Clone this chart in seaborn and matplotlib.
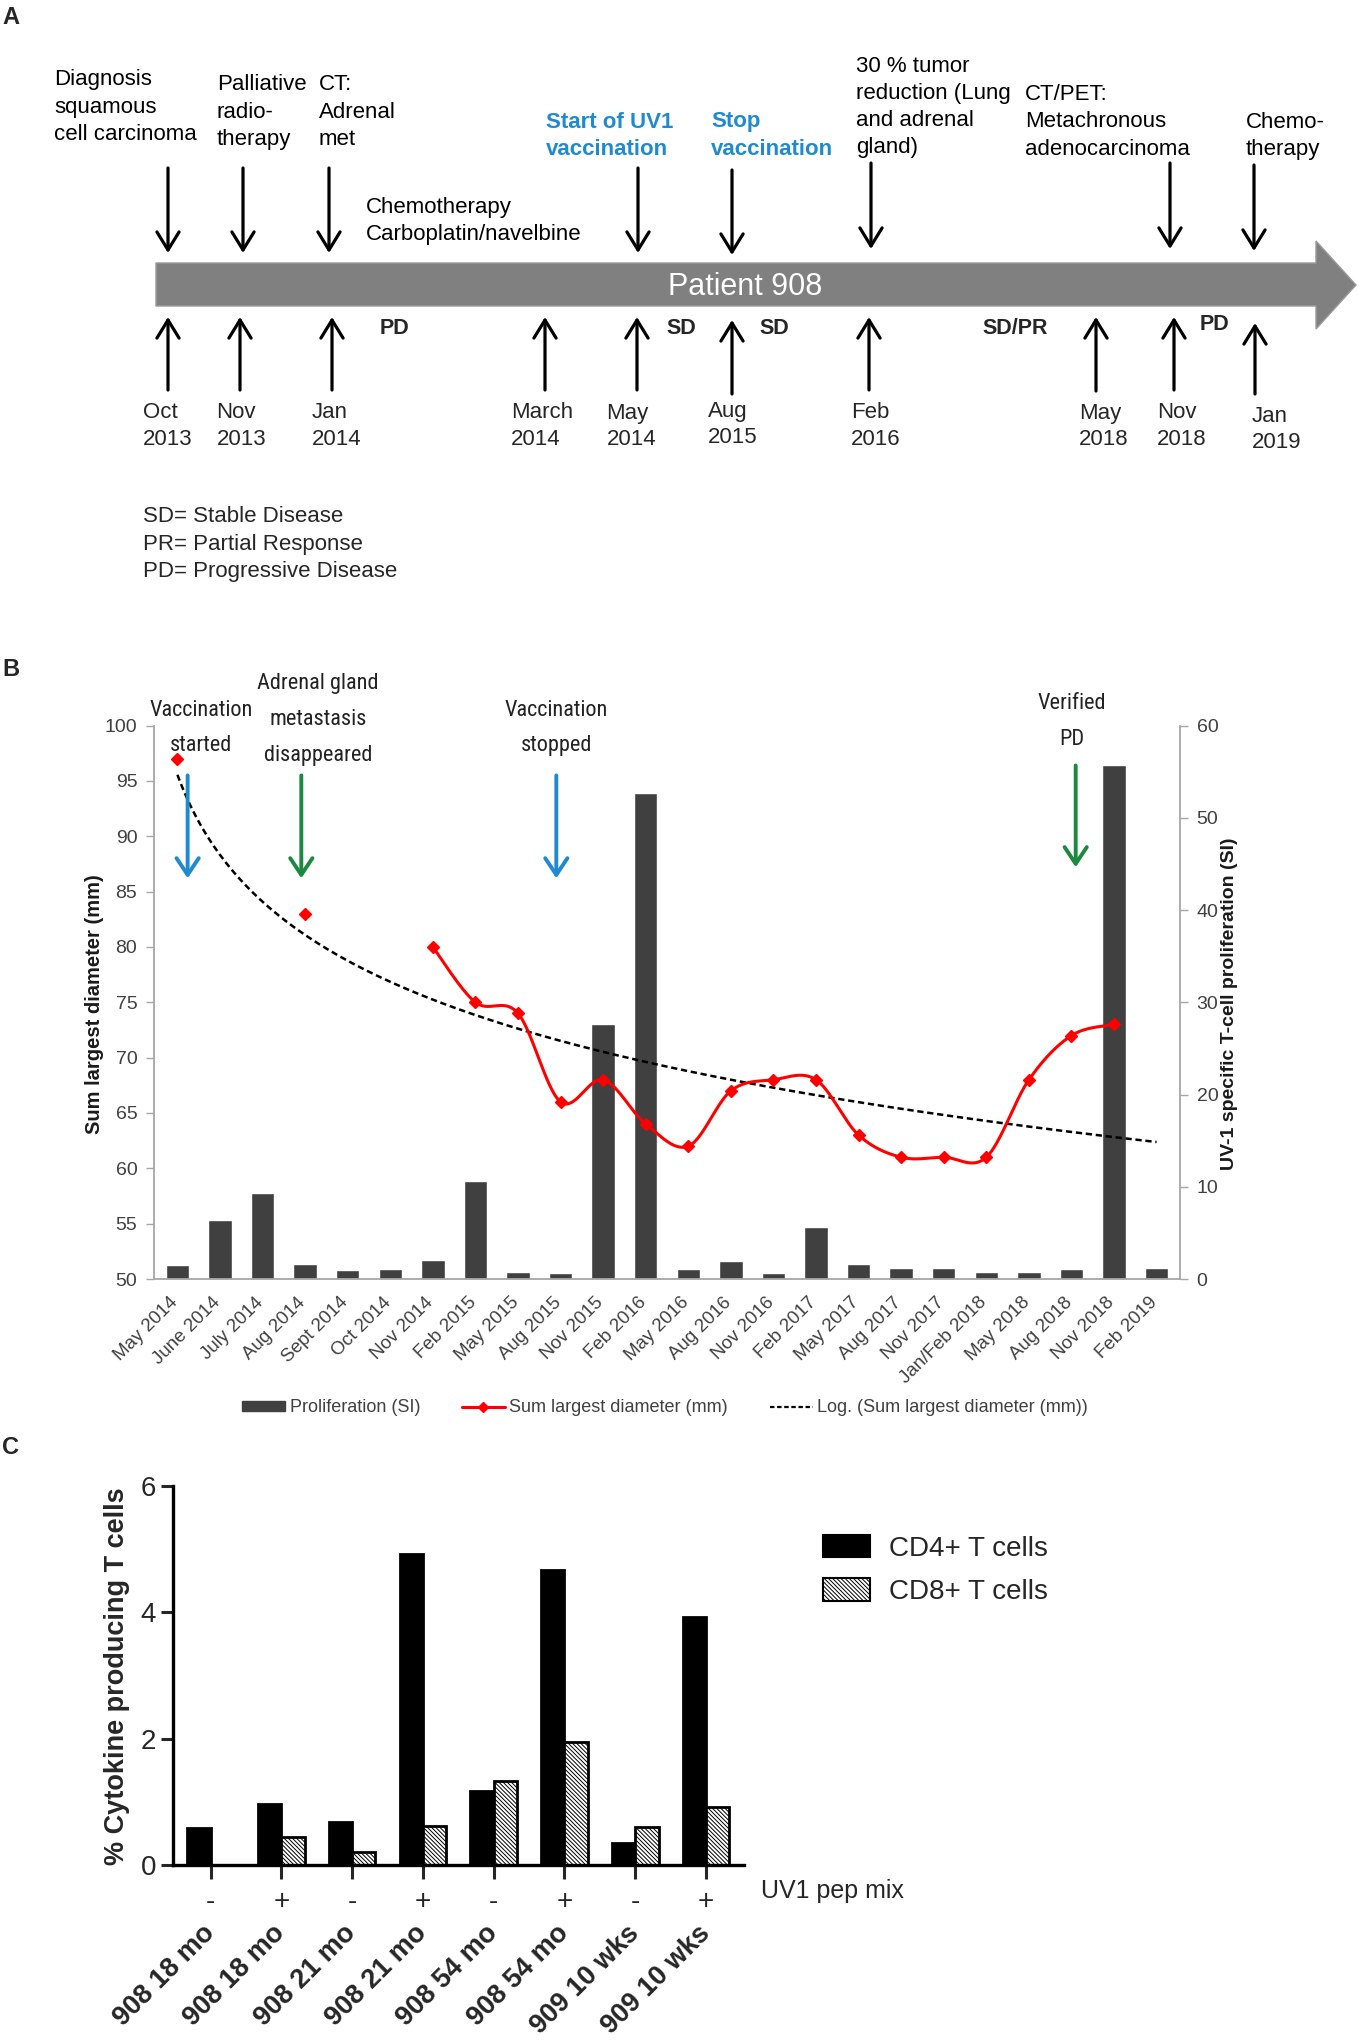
import numpy as np
import pandas as pd
import matplotlib
matplotlib.use("Agg")
import matplotlib.pyplot as plt
import seaborn as sns
from matplotlib.patches import Polygon, Patch
from matplotlib.lines import Line2D
from matplotlib import transforms

# ---------------------------------------------------------------- data
# Panel A: timeline of patient 908
a_title = "Patient 908"
a_events = ["Diagnosis\nsquamous\ncell carcinoma", "Palliative\nradio-\ntherapy", "CT:\nAdrenal\nmet",
            "Chemotherapy\nCarboplatin/navelbine", "Start of UV1\nvaccination", "Stop\nvaccination",
            "30 % tumor\nreduction (Lung\nand adrenal\ngland)", "CT/PET:\nMetachronous\nadenocarcinoma",
            "Chemo-\ntherapy"]
a_event_highlight = [False, False, False, False, True, True, False, False, False]
a_dates = ["Oct\n2013", "Nov\n2013", "Jan\n2014", "March\n2014", "May\n2014", "Aug\n2015",
           "Feb\n2016", "May\n2018", "Nov\n2018", "Jan\n2019"]
a_status = ["PD", "SD", "SD", "SD/PR", "PD"]
a_abbrev = ["SD= Stable Disease", "PR= Partial Response", "PD= Progressive Disease"]

# Panel B: proliferation (SI) and sum of largest diameters (mm)
b_months = ["May 2014", "June 2014", "July 2014", "Aug 2014", "Sept 2014", "Oct 2014", "Nov 2014",
            "Feb 2015", "May 2015", "Aug 2015", "Nov 2015", "Feb 2016", "May 2016", "Aug 2016",
            "Nov 2016", "Feb 2017", "May 2017", "Aug 2017", "Nov 2017", "Jan/Feb 2018", "May 2018",
            "Aug 2018", "Nov 2018", "Feb 2019"]
b_prolif = [1.5, 6.4, 9.3, 1.6, 1.0, 1.1, 2.1, 10.6, 0.8, 0.7, 27.7, 52.7, 1.1, 1.9, 0.7, 5.6,
            1.6, 1.2, 1.2, 0.8, 0.8, 1.1, 55.7, 1.2]
b_diam = [97, np.nan, np.nan, 83, np.nan, np.nan, 80, 75, 74, 66, 68, 64, 62, 67, 68, 68, 63, 61,
          61, 61, 68, 72, 73, np.nan]
b_series = ["Proliferation (SI)", "Sum largest diameter (mm)", "Log. (Sum largest diameter (mm))"]
b_notes = ["Vaccination\nstarted", "Adrenal gland\nmetastasis\ndisappeared", "Vaccination\nstopped",
           "Verified\nPD"]

# Panel C: cytokine producing T cells
c_samples = ["908 18 mo", "908 18 mo", "908 21 mo", "908 21 mo", "908 54 mo", "908 54 mo",
             "909 10 wks", "909 10 wks"]
c_pep = ["-", "+", "-", "+", "-", "+", "-", "+"]
c_cd4 = [0.58, 0.96, 0.68, 4.93, 1.17, 4.67, 0.35, 3.93]
c_cd8 = [np.nan, 0.44, 0.20, 0.61, 1.33, 1.95, 0.60, 0.92]
c_series = ["CD4+ T cells", "CD8+ T cells"]

# ---------------------------------------------------------------- style
sns.set_style("white")
plt.rcParams["font.family"] = ["Liberation Sans", "DejaVu Sans"]
NARROW = ["Roboto Condensed", "DejaVu Sans Condensed", "Liberation Sans Narrow", "Liberation Sans"]
BLUE = "#1f8ad2"
GREEN = "#1b8a3e"
DARK = "#404040"
AXGRAY = "#a6a6a6"
HATCH = "\\\\\\\\\\\\\\\\"

W, H = 1359, 2041
fig = plt.figure(figsize=(W / 100, H / 100), dpi=100)

# pixel-space overlay for the schematic panel A and the panel letters
ax_px = fig.add_axes([0, 0, 1, 1])
ax_px.set_xlim(0, W)
ax_px.set_ylim(H, 0)
ax_px.axis("off")


def lines_text(ax, x, y0, text, dy, **kw):
    for i, ln in enumerate(text.split("\n")):
        ax.text(x, y0 + i * dy, ln, ha="left", va="center", **kw)


# ---- panel letters
for letter, yy in zip("ABC", [17, 669, 1448]):
    ax_px.text(2, yy, letter, fontsize=17, fontweight="bold", ha="left", va="center")

# ---- panel A layout (schematic positions, px)
event_pos = [(54, 80), (217, 85), (319, 85), (366, 207), (546, 122), (711, 122), (856, 66),
             (1025, 94.5), (1246, 122)]
down_arrows = [(168, 168, 253), (243, 168, 253), (329, 168, 253), (638, 168, 253), (732, 170, 255),
               (871, 163, 249), (1170, 163, 249), (1254, 165, 251)]
date_pos = [(143, 413), (216.6, 413), (312, 413), (511, 413), (606.6, 413), (708, 411), (851, 413),
            (1079, 413), (1157, 413), (1252, 416)]
up_arrows = [(168, 317, 390), (240, 317, 390), (332, 317, 390), (545, 317, 390), (637, 317, 390),
             (732, 320, 394), (869, 317, 390), (1096, 317, 391), (1174, 317, 390), (1255, 323, 394)]
status_pos = [(380, 329), (666, 328), (759, 328), (982, 329), (1200, 324)]

ax_px.add_patch(Polygon([(156, 263), (1316, 263), (1316, 241), (1356, 285), (1316, 329),
                         (1316, 306), (156, 306)], closed=True, facecolor="#808080",
                        edgecolor="#9a9a9a", lw=1))
ax_px.text(745, 287, a_title, color="white", fontsize=22, ha="center", va="center")

for txt, hl, (x, y) in zip(a_events, a_event_highlight, event_pos):
    if hl:
        lines_text(ax_px, x, y, txt, 27.3, fontsize=16, color=BLUE, fontweight="bold")
    else:
        lines_text(ax_px, x, y, txt, 27.3, fontsize=16, color="black")

arrow_kw = dict(arrowstyle="->,head_length=0.65,head_width=0.4", color="black", lw=2.3,
                mutation_scale=20, shrinkA=0, shrinkB=0)
for x, top, tip in down_arrows:
    ax_px.annotate("", xy=(x, tip), xytext=(x, top), arrowprops=arrow_kw)
for x, tip, base in up_arrows:
    ax_px.annotate("", xy=(x, tip), xytext=(x, base), arrowprops=arrow_kw)
for txt, (x, y) in zip(a_dates, date_pos):
    lines_text(ax_px, x, y, txt, 26.5, fontsize=16)
for txt, (x, y) in zip(a_status, status_pos):
    ax_px.text(x, y, txt, fontsize=15.5, fontweight="bold", ha="left", va="center")
for i, txt in enumerate(a_abbrev):
    ax_px.text(143, 517 + i * 27.5, txt, fontsize=16, ha="left", va="center")

# ---------------------------------------------------------------- panel B
axl = fig.add_axes([154 / W, 1 - 1279 / H, (1180 - 154) / W, (1279 - 725.6) / H])
axb = axl.twinx()

sns.barplot(x=b_months, y=b_prolif, order=b_months, color=DARK, saturation=1, width=0.55,
            errorbar=None, ax=axb)
axb.set_ylim(0, 60)
axb.set_yticks(range(0, 61, 10))
axb.set_ylabel("")
axb.set_xlabel("")

axl.set_zorder(axb.get_zorder() + 1)
axl.patch.set_visible(False)

xs = np.arange(len(b_months))
yd = np.array(b_diam, dtype=float)


def smooth_segment(px, py, n=40):
    pts = np.column_stack([px, py]).astype(float)
    out = [pts[0]]
    for i in range(len(pts) - 1):
        p0 = pts[i - 1] if i > 0 else pts[i]
        p1, p2 = pts[i], pts[i + 1]
        p3 = pts[i + 2] if i + 2 < len(pts) else pts[i + 1]
        c1 = p1 + (p2 - p0) / 6.0
        c2 = p2 - (p3 - p1) / 6.0
        t = np.linspace(0, 1, n)[1:, None]
        out.extend((1 - t) ** 3 * p1 + 3 * (1 - t) ** 2 * t * c1 + 3 * (1 - t) * t ** 2 * c2 + t ** 3 * p2)
    return np.array(out)


valid = ~np.isnan(yd)
run = []
for i in range(len(xs) + 1):
    if i < len(xs) and valid[i]:
        run.append(i)
    else:
        if len(run) >= 2:
            seg = smooth_segment(xs[run], yd[run])
            axl.plot(seg[:, 0], seg[:, 1], color="red", lw=2.2, zorder=3)
        run = []
axl.plot(xs[valid], yd[valid], linestyle="none", marker="D", markersize=6.5, color="red", zorder=4)

# logarithmic trend line fitted on category positions 1..n
lx = np.log(xs[valid] + 1.0)
slope, intercept = np.polyfit(lx, yd[valid], 1)
xt = np.linspace(1, len(b_months), 300)
axl.plot(xt - 1, intercept + slope * np.log(xt), color="black", lw=1.8,
         linestyle=(0, (2.5, 1.5)), zorder=2)

axl.set_ylim(50, 100)
axl.set_yticks(range(50, 101, 5))
axl.set_xlim(-0.55, len(b_months) - 0.45)
axl.set_xticks(xs)
axl.set_xticklabels(b_months, rotation=45, ha="right", va="center", rotation_mode="anchor")
axl.tick_params(axis="x", length=0, pad=15, labelsize=13.5, labelcolor=DARK)
axl.tick_params(axis="y", length=6, width=1, color=AXGRAY, labelsize=14, labelcolor=DARK, pad=6)
axb.tick_params(axis="y", length=6, width=1, color=AXGRAY, labelsize=14, labelcolor=DARK, pad=6)
for lab in axl.get_xticklabels():
    lab.set_transform(lab.get_transform() + transforms.ScaledTranslation(-0.02, 0, fig.dpi_scale_trans))

for a in (axl, axb):
    for s in a.spines.values():
        s.set_visible(False)
axl.spines["left"].set_visible(True)
axl.spines["bottom"].set_visible(True)
axb.spines["right"].set_visible(True)
for s in (axl.spines["left"], axl.spines["bottom"], axb.spines["right"]):
    s.set_color(AXGRAY)
    s.set_linewidth(1.3)

# event arrows and notes
note_x = [0.55, 3.3, 8.9, 21.0]
note_y = [101.4, 103.8, 101.4, 102.0]
arrow_x = [0.24, 2.91, 8.9, 21.1]
arrow_top = [95.5, 95.5, 95.5, 96.4]
arrow_tip = [86.2, 86.2, 86.2, 87.2]
arrow_col = [BLUE, GREEN, BLUE, GREEN]
for txt, nx, ny in zip(b_notes, note_x, note_y):
    for i, ln in enumerate(txt.split("\n")):
        axl.annotate(ln, xy=(nx, ny), xytext=(0, -i * 25.8), textcoords="offset points",
                     ha="center", va="center", fontsize=16, family=NARROW, fontstretch="condensed",
                     color="#222222", annotation_clip=False)
for ax_, t0, t1, c in zip(arrow_x, arrow_top, arrow_tip, arrow_col):
    axl.annotate("", xy=(ax_, t1), xytext=(ax_, t0),
                 arrowprops=dict(arrowstyle="->,head_length=0.6,head_width=0.4", color=c, lw=2.8,
                                 mutation_scale=20, shrinkA=0, shrinkB=0), annotation_clip=False)

ax_px.text(95, 1004, "Sum largest diameter (mm)", rotation=90, fontsize=14.5, fontweight="bold",
           ha="center", va="center", color="#1a1a1a")
ax_px.text(1229, 1004, "UV-1 specific T-cell proliferation (SI)", rotation=90, fontsize=14,
           fontweight="bold", ha="center", va="center", color="#1a1a1a")

b_handles = [Patch(facecolor=DARK, edgecolor=DARK),
             Line2D([0], [0], color="red", lw=2.2, marker="D", markersize=5),
             Line2D([0], [0], color="black", lw=1.6, linestyle=(0, (2, 1.2)))]
legb = fig.legend(b_handles, b_series, loc="center", bbox_to_anchor=(665 / W, 1 - 1408 / H), ncol=3,
                  frameon=False, fontsize=13, handlelength=2.4, handleheight=0.45,
                  handletextpad=0.25, columnspacing=2.3)
for t in legb.get_texts():
    t.set_color(DARK)

# ---------------------------------------------------------------- panel C
axc = fig.add_axes([173 / W, 1 - 1865 / H, (743.6 - 173) / W, (1865 - 1486) / H])
slots = [f"s{i}" for i in range(len(c_samples))]
df_c = pd.DataFrame({"slot": slots * 2,
                     "cells": [c_series[0]] * len(slots) + [c_series[1]] * len(slots),
                     "pct": c_cd4 + c_cd8})
plt.rcParams["hatch.linewidth"] = 0.7
sns.barplot(data=df_c, x="slot", y="pct", hue="cells", order=slots, hue_order=c_series,
            palette=["black", "white"], saturation=1, width=0.66, errorbar=None,
            edgecolor="black", linewidth=2.0, legend=False, ax=axc)
for bar in axc.containers[1]:
    bar.set_hatch(HATCH)
    bar.set_facecolor("white")
    bar.set_edgecolor("black")

axc.set_ylim(0, 6)
axc.set_yticks([0, 2, 4, 6])
axc.set_xlim(-0.53, len(slots) - 0.47)
axc.set_xticks(range(len(slots)))
axc.set_xticklabels(c_pep)
axc.set_xlabel("")
axc.set_ylabel("")
axc.tick_params(axis="y", length=9, width=2.2, labelsize=20, pad=3, left=True, direction="out")
axc.tick_params(axis="x", length=10, width=2.2, labelsize=20, pad=7, bottom=True, direction="out")
for s in ("top", "right"):
    axc.spines[s].set_visible(False)
for s in ("left", "bottom"):
    axc.spines[s].set_linewidth(2.4)
    axc.spines[s].set_color("black")

trans_c = transforms.blended_transform_factory(axc.transData, axc.transAxes)
for i, name in enumerate(c_samples):
    axc.text(i + 0.0, -0.17, name, transform=trans_c, rotation=45, rotation_mode="anchor",
             ha="right", va="center", fontsize=19.5, fontweight="bold")
axc.text(1.03, -0.069, "UV1 pep mix", transform=axc.transAxes, ha="left", va="center", fontsize=18)

ax_px.text(117, 1676, "% Cytokine producing T cells", rotation=90, fontsize=19.5,
           fontweight="bold", ha="center", va="center")

c_handles = [Patch(facecolor="black", edgecolor="black", lw=1.5),
             Patch(facecolor="white", edgecolor="black", hatch=HATCH, lw=1.5)]
fig.legend(c_handles, c_series, loc="upper left", bbox_to_anchor=(823 / W, 1 - 1535 / H),
           frameon=False, fontsize=20, handlelength=1.7, handleheight=0.86, handletextpad=0.68,
           labelspacing=0.6, borderpad=0, borderaxespad=0)

fig.savefig("out.png", dpi=100)
